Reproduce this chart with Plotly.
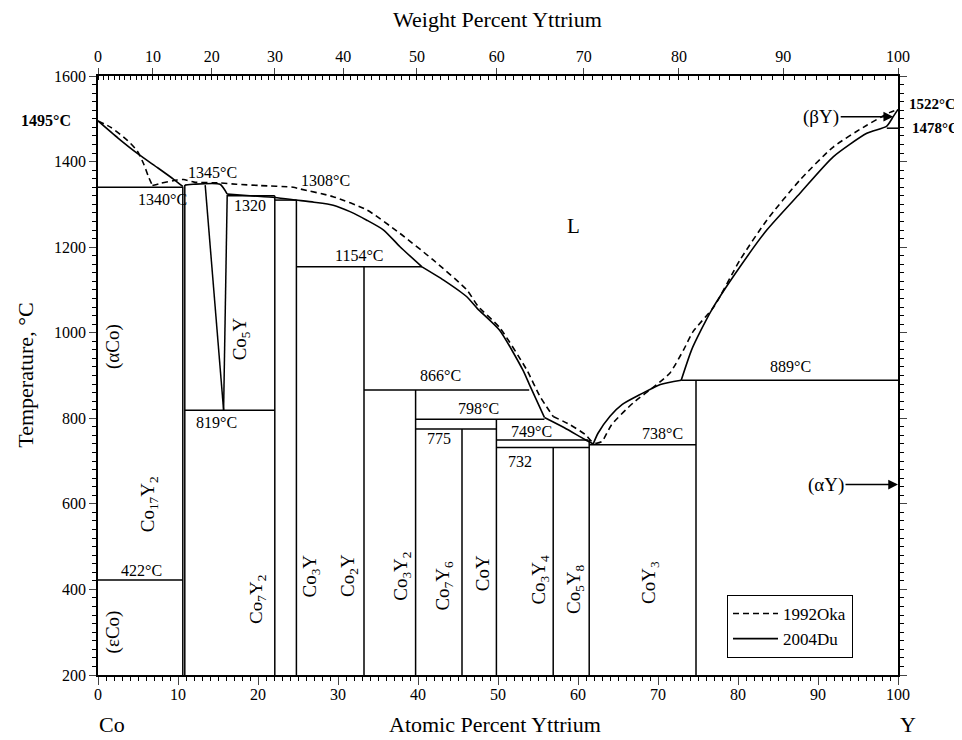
import plotly.graph_objects as go

FONT = "Liberation Serif"

# ---------------- data ----------------
M_CO, M_Y = 58.933, 88.906
wt_major = [0, 10, 20, 30, 40, 50, 60, 70, 80, 90, 100]
wt_minor = list(range(0, 101))

def wt_to_at(w):
    if w <= 0:
        return 0.0
    if w >= 100:
        return 100.0
    a = w / M_Y
    b = (100 - w) / M_CO
    return 100 * a / (a + b)

at_major = [0, 10, 20, 30, 40, 50, 60, 70, 80, 90, 100]
T_major = [200, 400, 600, 800, 1000, 1200, 1400, 1600]

# 2004Du liquidus branches
du_liq1_x = [0, 2.5, 5.0, 7.5, 9.5, 10.6]
du_liq1_T = [1495, 1455, 1418, 1385, 1358, 1342]
du_liq2_x = [10.85, 11.9, 15.25, 16.15]
du_liq2_T = [1345, 1347, 1347, 1324]
du_liq3_x = [16.15, 19.0, 22.1, 24.8, 27.0, 29.4, 31.5, 33.6, 35.7, 37.75, 40.5]
du_liq3_T = [1324, 1320, 1316, 1310, 1305, 1298, 1283, 1263, 1240, 1201, 1154]
du_liq4_x = [40.5, 43.2, 46.1, 47.4, 50.2, 53.1, 53.9, 55.8]
du_liq4_T = [1154, 1123, 1084, 1057, 1006, 913, 880, 802]
du_liq5_x = [55.8, 58.3, 60.8, 61.9]
du_liq5_T = [802, 778, 751, 740]
du_liq6_x = [61.9, 62.5, 64.0, 65.5, 67.4, 70.3, 72.9]
du_liq6_T = [740, 765, 805, 832, 852, 879, 889]
du_liq7_x = [72.9, 74.2, 75.4, 76.7, 80.25, 83.6, 87.75, 91.9, 96.1, 98.6, 99.4, 100]
du_liq7_T = [889, 960, 1007, 1053, 1154, 1240, 1326, 1411, 1466, 1483, 1505, 1522]

# 1992Oka liquidus branches
oka1_x = [0, 1.6, 3.7, 4.9, 5.7, 6.3, 6.8]
oka1_T = [1495, 1480, 1449, 1425, 1395, 1365, 1344]
oka2_x = [6.8, 7.8, 9.9, 10.7, 12.0, 15.25, 17.3, 20.25, 24.4, 25.25, 29.4, 33.6,
          37.75, 41.9, 46.1, 47.5, 50.2, 53.6, 55.25, 56.9]
oka2_T = [1344, 1349, 1357, 1358, 1352, 1350, 1347, 1344, 1340, 1336, 1318, 1287,
          1232, 1170, 1100, 1062, 1012, 913, 851, 804]
oka3_x = [56.9, 59.0, 60.9, 61.7, 62.2]
oka3_T = [804, 785, 762, 746, 741]
oka4_x = [62.2, 63.0, 64.2, 66.9, 69.8, 71.5, 73.2, 74.4, 77.0, 80.25, 83.6, 87.75,
          91.9, 96.1, 99.0, 100]
oka4_T = [741, 746, 785, 836, 878, 906, 960, 1003, 1061, 1170, 1263, 1357,
          1434, 1485, 1515, 1522]

# compound (line) positions and their top temperatures
comp_x = [10.6, 10.85, 22.1, 24.8, 33.25, 39.7, 45.5, 49.8, 56.9, 61.4, 74.75]
comp_top = [1342, 1345, 1320, 1310, 1154, 866, 775, 798, 732, 749, 889]
T_bottom = 200

# Co5Y homogeneity wedge
co5y_left_x = [13.4, 15.7]
co5y_left_T = [1345, 819]
co5y_right_x = [16.15, 15.7]
co5y_right_T = [1322, 819]

# invariant horizontals
inv_T = [1340, 1320, 1310, 1154, 866, 819, 798, 775, 749, 738, 732, 889, 422, 1478]
inv_x0 = [0, 16.15, 22.1, 24.8, 33.25, 10.85, 39.7, 39.7, 49.8, 61.4, 49.8, 72.9, 0, 98.6]
inv_x1 = [10.6, 22.1, 24.8, 40.5, 53.9, 22.1, 55.8, 49.8, 61.3, 74.75, 61.4, 100, 10.6, 100]

# text labels
temp_lbl = ["1340°C", "1345°C", "1320", "1308°C", "1154°C", "819°C", "866°C", "798°C",
            "775", "749°C", "732", "738°C", "889°C", "422°C"]
temp_lbl_x = [8.1, 14.3, 19.0, 28.4, 32.6, 14.75, 42.75, 47.5, 42.6, 54.2, 52.7, 70.6, 86.5, 5.4]
temp_lbl_T = [1312, 1374, 1298, 1356, 1180, 790, 899, 824, 752, 770, 700, 764, 921, 445]

phase_lbl = ["Co<sub>17</sub>Y<sub>2</sub>", "Co<sub>5</sub>Y", "Co<sub>7</sub>Y<sub>2</sub>",
             "Co<sub>3</sub>Y", "Co<sub>2</sub>Y", "Co<sub>3</sub>Y<sub>2</sub>",
             "Co<sub>7</sub>Y<sub>6</sub>", "CoY", "Co<sub>3</sub>Y<sub>4</sub>",
             "Co<sub>5</sub>Y<sub>8</sub>", "CoY<sub>3</sub>", "(αCo)", "(εCo)"]
phase_lbl_x = [6.3, 17.9, 19.9, 26.6, 31.4, 37.9, 43.3, 48.0, 55.2, 59.7, 69.0, 1.9, 1.9]
phase_lbl_T = [600, 985, 376, 432, 432, 430, 410, 438, 422, 400, 415, 967, 300]

# ---------------- figure ----------------
fig = go.Figure()

def add_line(xs, ys, dash="solid", name=None, show=False, shape="linear", width=1.6):
    fig.add_trace(go.Scatter(
        x=xs, y=ys, mode="lines", name=name, showlegend=show,
        line=dict(color="black", width=width, dash=dash, shape=shape, smoothing=0.6),
        hoverinfo="skip"))

DASH = "6px,4px"
add_line(oka2_x, oka2_T, dash=DASH, name="1992Oka", show=True, shape="spline")
add_line(du_liq3_x, du_liq3_T, name="2004Du", show=True, shape="spline")

for xs, ys in [(oka1_x, oka1_T), (oka3_x, oka3_T), (oka4_x, oka4_T)]:
    add_line(xs, ys, dash=DASH, shape="spline")

for xs, ys in [(du_liq1_x, du_liq1_T), (du_liq2_x, du_liq2_T), (du_liq4_x, du_liq4_T),
               (du_liq5_x, du_liq5_T), (du_liq6_x, du_liq6_T), (du_liq7_x, du_liq7_T)]:
    add_line(xs, ys, shape="spline")

vx, vy = [], []
for cx, ct in zip(comp_x, comp_top):
    vx += [cx, cx, None]
    vy += [T_bottom, ct, None]
for t, a, b in zip(inv_T, inv_x0, inv_x1):
    vx += [a, b, None]
    vy += [t, t, None]
vx += co5y_left_x + [None] + co5y_right_x
vy += co5y_left_T + [None] + co5y_right_T
add_line(vx, vy, width=1.5)

wt_major_at = [wt_to_at(w) for w in wt_major]
wt_minor_at = [wt_to_at(w) for w in wt_minor]
# invisible trace that activates the top (weight percent) axis
fig.add_trace(go.Scatter(x=wt_major_at, y=[None] * len(wt_major_at), xaxis="x2",
                         mode="lines", showlegend=False, hoverinfo="skip"))

def tf(size):
    return dict(family=FONT, size=size, color="black")

ann = []
for t, x, T in zip(temp_lbl, temp_lbl_x, temp_lbl_T):
    ann.append(dict(x=x, y=T, text=t, showarrow=False, font=tf(16)))
for t, x, T in zip(phase_lbl, phase_lbl_x, phase_lbl_T):
    ann.append(dict(x=x, y=T, text=t, showarrow=False, textangle=-90, font=tf(19)))
ann.append(dict(x=59.4, y=1250, text="L", showarrow=False, font=tf(21)))
# bold end temperatures (outside the plot area -> paper coordinates)
ann.append(dict(xref="paper", yref="paper", x=-0.065, y=0.926, xanchor="center", yanchor="middle",
                text="<b>1495°C</b>", showarrow=False, font=tf(16)))
ann.append(dict(xref="paper", yref="paper", x=1.0425, y=0.953, xanchor="center", yanchor="middle",
                text="<b>1522°C</b>", showarrow=False, font=tf(15)))
ann.append(dict(xref="paper", yref="paper", x=1.047, y=0.914, xanchor="center", yanchor="middle",
                text="<b>1478°C</b>", showarrow=False, font=tf(15)))
# arrows
ann.append(dict(x=99.4, y=1505, ax=-72, ay=0, text="(βY)", showarrow=True, arrowhead=2, arrowsize=1.3,
                arrowwidth=1.5, arrowcolor="black", font=tf(19)))
ann.append(dict(x=100, y=645, ax=-72, ay=0, text="(αY)", showarrow=True, arrowhead=2, arrowsize=1.3,
                arrowwidth=1.5, arrowcolor="black", font=tf(19)))
# titles
def pann(x, y, text, angle=0):
    return dict(xref="paper", yref="paper", x=x, y=y, xanchor="center", yanchor="middle",
                text=text, textangle=angle, showarrow=False, font=tf(22))
ann.append(pann(0.499, 1.094, "Weight Percent Yttrium"))
ann.append(pann(0.496, -0.083, "Atomic Percent Yttrium"))
ann.append(pann(0.018, -0.083, "Co"))
ann.append(pann(1.012, -0.083, "Y"))
ann.append(pann(-0.091, 0.5, "Temperature, °C", -90))

fig.update_layout(
    width=954, height=732, autosize=False,
    margin=dict(l=90, r=64, t=68, b=65),
    paper_bgcolor="white", plot_bgcolor="white",
    font=dict(family=FONT, size=16, color="black"),
    annotations=ann,
    legend=dict(x=0.786, y=0.134, xanchor="left", yanchor="top", bgcolor="white",
                bordercolor="black", borderwidth=1.2, font=tf(17),
                tracegroupgap=0, itemwidth=45),
    xaxis=dict(range=[0, 100], tickvals=at_major, ticks="outside", ticklen=8, tickwidth=1.3,
               showline=True, linecolor="black", linewidth=1.5, mirror=True, showgrid=False,
               zeroline=False, tickfont=tf(16), ticklabelstandoff=-4,
               minor=dict(dtick=1, tick0=0, ticks="outside", ticklen=4, tickcolor="black", tickwidth=1)),
    xaxis2=dict(range=[0, 100], overlaying="x", side="top", anchor="y",
                tickmode="array", tickvals=wt_major_at, ticktext=[str(w) for w in wt_major],
                ticks="outside", ticklen=6, tickwidth=1.3, showgrid=False, zeroline=False,
                tickfont=tf(16), showline=True, linecolor="black", linewidth=1.5,
                minor=dict(tickmode="array", tickvals=wt_minor_at, ticks="inside", ticklen=4,
                           tickcolor="black", tickwidth=1)),
    yaxis=dict(range=[200, 1600], tickvals=T_major, ticks="outside", ticklen=7, tickwidth=1.3,
               showline=True, linecolor="black", linewidth=1.5, mirror="ticks", showgrid=False,
               zeroline=False, tickfont=tf(16),
               minor=dict(dtick=20, tick0=200, ticks="outside", ticklen=4, tickcolor="black", tickwidth=1)),
)

fig.write_html("out.html")
